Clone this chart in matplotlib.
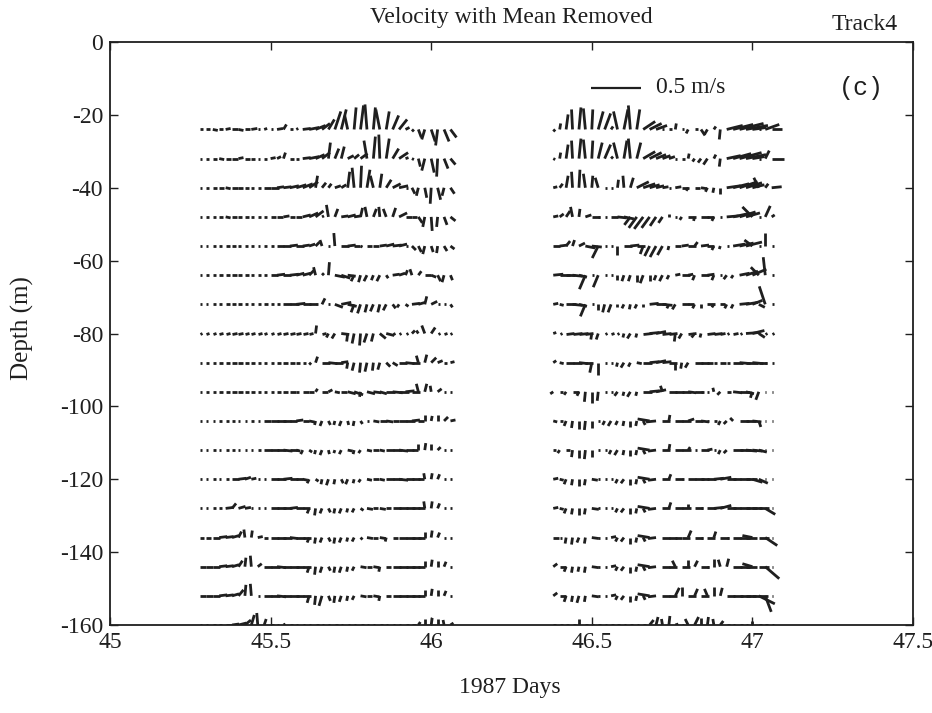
import numpy as np
import matplotlib
matplotlib.use("Agg")
import matplotlib.pyplot as plt
from matplotlib.collections import LineCollection

plt.rcParams["font.family"] = ["Liberation Serif", "DejaVu Serif"]
plt.rcParams["axes.unicode_minus"] = False

# ---------------- data ----------------
DEPTHS = [-24, -32, -40, -48, -56, -64, -72, -80, -88, -96,
          -104, -112, -120, -128, -136, -144, -152, -160]
LEFT_START = 45.28     # first ensemble time of the first segment (days)
RIGHT_START = 46.38    # first ensemble time of the second segment (days)
STEP = 0.02            # ensemble interval (days)

# velocity components, cm/s (east = U, north = V), one list per depth
U_LEFT = [
    [3,4,5,4,5,6,5,5,6, 2,3,2, 6,3, 3,2, 8,10,10,8,6, 6,5,-3,2,3,-2,2,-4,3,6,8, 4,2, 3,-3,4,-2,5,6],
    [2,3,4,5,5,6,5,5,4, 2,3,5, 4,2, 4,3, 8,10,9,8, 2, 4,3, 6,5,7, -3,2,-1,3, 6,9, 3,2, 2,-3,3,-1,4,5],
    [2,3,4,5,5,6,5,4,3,3, 7,8,7, 8,9,10,10,9, 2, 4,3, 6,5, 2,-2,1,3, -3,2,5, 8,9, 2, 3,-2,2,-1,3,-2,4],
    [2,3,3,4,5,5,4,4,3,3,3, 5,6,6,5,6, 8,9,8, 2, -2,3, 7,8,7, 2,-2,3,-1, -3,3,8, 6,5, 4,-2,1,-1,3,5],
    [2,2,3,3,4,4,3,3,3,2,3,3, 7,8,8,8,7,6, 4,-2, 2, -1, 8,8,6, 2,5, 6,7,8,9,8, 2, 4,3,-2,2,-1,3,4],
    [2,3,3,4,4,5,4,4,3,3,3, 7,8,8,9,8,8, 5,-2, 2,1, 10,9,8, -3,-2,-3,-2,-3,2, 7,6,2,-2,3, 6,5,3,-2,2],
    [2,2,3,3,4,4,4,3,3,3,4,3,3, 8,9,9,8,8, 2, 3, 2, 8,10,9, -3,-3,-2,-3,-2,-3, 3,-2,3, 8,7,2,6, 2,2, 2],
    [2,3,3,4,4,5,5,4,4,4,3,3,4,5,5,5, 5,4, 1, 4, -2,-3,8, -1,-2,-1,-3,-2, 6,8, 2,2,2, 3,-2, -3,4, 2,3,2],
    [2,3,3,4,4,5,5,4,4,3,3,3,4,5,5,4, 3,2, 2, 8,9,8,7, -1,-2,-1,-2,-1,-2,4,5, 8,9,8, -2,2,5, 5,3,4],
    [2,3,3,4,4,5,5,4,4,3,3,3,4,5, 6,3,6,5, 2, 6,4,5,6, 8,9,-1,8,8,7, 9,10,10,9,8, -2,2,-1, 4,2,2],
    [2,2,2,3,3,3,2,2,3,2, 7,8,9,8,7, 7,6,5, -1,-2,2,-1, -2,1,-1,2,2, 6,7,7,6, 8,9,8,6, 0,1,0, 4,5],
    [2,2,3,2,3,3,2,2,2,3, 8,8,9,9,8, 4,-2,3, -1,-2,1,-1,-2,5,-1,-2, 5,6,5, 8,9,9,8,6, 0,1,0, 3,2,2],
    [2,2,3,2,3, 7,8,6,5, 2,2, 8,9,9,8,7, 5,-2,3, -1,-2,-1,2,-2,-1,-2, 5,6,5, 8,9,9,8,8,6, -1,1,2, 2,2],
    [2,2,3,3, 8,4,7,6, 2,2,2, 8,9,9,8,8,7, -2,-1,-2,2,-1,-2,-1,-2,3, 6,5,6,5, 8,9,9,8,7, -1,1,2, 2,2],
    [4,5, 7,8,8,7,3,-1,1, 5,4, 8,9,9,8,9,8, -2,-1,-2,2,-1,-2,-1,-2,2, 6,5,6,-1,5, 8,9,9,7, 0,1,2, 2,2],
    [6,7,7,8, 8,7,4,1,-1, 4, 8,9,9,8,9,8,8, -2,-1,-2,2,-1,-2,-1,-2, 6,5,6,-1,5, 8,9,9,8,7, 0,1,0,2, 2],
    [6,7,7,8,8, 7,5,1,-1, 2, 8,9,9,8,9,8,8, -2,-1,-3,2,-1,-2,-1,-2, 6,5,6,-1,5, 8,9,9,8,7, 0,1,0,2, 2],
    [2,2,3,3, 6,7,8,6,3,-1,2, 3,2,2,3,2, 2,2,3,2,2,3,2,2,2,3,2,2,3,2,2,2,3, 4,2,0,1,0,-1,3],
]
V_LEFT = [
    [0,0,-1,0,1,0,-1,0,1, 0,1,0, 1,5, 0,1, 1,2,4,6,10, 18,20,14,22,24,25,22,20,18,14,10, 2,-2, -8,-10,-12,-16,-12,-8],
    [0,0,0,-1,0,0,1,0,0, 0,0,1, 2,6, 0,0, 1,2,4,6, 16, 10,12, 3,4,5, 18,22,24,20, 10,6, 1,-1, -8,-12,-14,-18,-10,-6],
    [0,0,0,0,-1,0,0,0,0,0, 0,0,1, 1,2,3,4,6, 12, 5,4, 2,3, 16,20,22,18, 12,14,8, 4,2, 0, -6,-8,-10,-16,-12,-8,-6],
    [0,0,0,0,-1,0,0,0,0,0,0, 0,0,1,0,0, 2,4,6, 1, 12,8, 1,2,1, 9,10,8,10, 8,9,4, 0,0, -6,-10,-14,-10,-8,-4],
    [0,0,0,0,0,0,0,0,0,0,0,0, 0,0,1,0,1,2, 4,6, 0, 13, 0,1,0, -1,0, 0,1,2,1,2, 0, -4,-6,-8,-6,-7,-5,-3],
    [0,0,0,0,0,0,0,0,0,0,0, 0,1,0,1,2,2, 5,8, 2,13, -2,-3,-1, -6,-7,-6,-5,-6,-3, 1,2,5,6,4, 0,-2,-6,-7,-5],
    [0,0,0,0,0,0,0,0,0,0,0,0,0, 0,0,1,0,0, 0, 6, 0, -3,2,-2, -8,-9,-8,-7,-8,-6, -4,-3,-2, 1,2,8,3, 0,0, -3],
    [0,0,0,0,0,0,0,0,0,0,0,0,0,0,0,0, 0,0, 8, 0, -4,-5,-1, -8,-10,-12,-9,-8, -5,-2, 0,0,0, 3,3, 8,6, 0,0,0],
    [0,0,0,0,0,0,0,0,0,0,0,0,0,0,0,0, 0,-2, 6, 0,-1,0,1, -6,-8,-10,-9,-8,-7,-4,-3, 0,-1,0, 7,8,5, 2,0,1],
    [0,0,0,0,0,0,0,0,0,0,0,0,0,0, 0,0,0,0, 3, 0,2,-1,0, -2,-3,-5,-2,-1,-2, 0,-1,0,1,0, 8,8,6, 3,0,0],
    [0,0,0,0,0,0,0,0,0,0, 0,0,0,0,0, 1,0,-1, -4,-5,-4,-4, -5,-4,-5,-3,0, -1,0,-1,0, 0,0,1,0, 6,5,6, 4,1],
    [0,0,0,0,0,0,0,0,0,0, 0,0,0,-1,0, -1,-4,-2, -4,-5,-4,-3,-4,-1,-4,-3, -1,0,-1, 0,0,-1,0,0, 6,7,6, 3,0,0],
    [0,0,0,0,0, 0,1,2,1, 0,0, 0,0,1,0,0, -1,-4,-2, -5,-6,-5,-4,-5,-4,-3, -1,0,-1, 0,0,-1,0,0,0, 6,6,5, 0,0],
    [0,0,0,0, 1,5,2,1, 0,0,0, 0,0,0,1,0,0, -5,-7,-5,-4,-5,-5,-4,-4,-2, -1,0,-1,0, 0,0,0,0,0, 7,7,5, 0,0],
    [0,0, 0,1,1,2,6,8,7, 1,0, 0,0,0,-1,0,0, -5,-6,-5,-4,-6,-5,-4,-4,-2, -1,0,-1,-4,0, 0,0,0,0, 6,7,5, 0,0],
    [0,0,0,1, 1,2,6,9,11, 3, 0,0,-1,0,0,0,0, -6,-8,-6,-4,-6,-6,-5,-4, -1,0,-1,-5,0, 0,0,0,0,0, 6,7,6,5, 0],
    [0,0,0,1,1, 2,6,11,12, 0, 0,0,-1,0,0,0,0, -7,-9,-10,-5,-7,-6,-5,-4, -1,0,-1,-5,0, 0,0,0,0,0, 6,7,6,5, 0],
    [0,0,0,0, 0,1,2,5,10,12,6, 0,0,1,0,0, 0,0,0,0,0,0,0,0,0,0,0,0,0,0,0,0,0, 0,3,6,7,6,5,2],
]
U_RIGHT = [
    [2, 1,2,-1,2,-2,1,5,6, 2, -4,4, -2,3, 12,12,11, 2, 3,1,2,-2,3, 4,-3,2, -1, 16,20,24,22,14, 2, 14,10],
    [2, 1,2,-1,2,-2,1,4,6, 2, -4,3, -2,4, 12,12,10,8,6, 2,3,1,-2, -3,-4,2,-1, 14,18,22,20,12, 2, 4,12],
    [4,3, 2,-1,1,-2, 1,-3, 2,2, 1, -1,3, 12,12,10,8,6, 2, 6,7,-2,5, 6,-2,-1,0, 14,16,18,16,12, -5, 3,10],
    [5,4, 4,-2,1, 6,8, 2,2, 7,9,10, -6,-8,-9,-8,-6,-4, 0,2,-2, 8,-1,8, 7,-2,2, 12,14,16,14, -10, 2,5,3],
    [7,8, 4,2,6, 10,10, -6, 2,2, 0, 8,9,8, -3,-5,-6,-5, -1,6,7, 8,3,8,7, -2,-1,2, 12,14,16, -8, 2,0,2],
    [10,10, 9,10,8, -6, 2,-5, 2,2, 0,-2, -2,0,-3,0,-2, -3,-2,5,8, 5,-2,8,7, -2,2,-3,-2, 10,12,14, -8, -2,2],
    [5,4, 10,10,8, -5, 2, 0,-2,-3, 0,-2,-1,-2,0, 9,10,10, -2,-3,7,6, -2,0,8,-2,5, -2,-2,10,12, 10,6, -6,2],
    [3,2, 8,9,9,8, -1,-2, 2,3,2, -1,-3,-1, 9,10,10,9, 8,-1,-3,8, -3,-1,8,8, 5,2,5,2, 14,12,6, 2,2],
    [3,4, 8,9,9,8, -2,0, 2,2, -1,-3,-2,5, 9,10,10,9,8, 0,-1,-3,8, 8,6,3,6,3, 10,11,12,11,8, 2,2],
    [-3, 3,-2,6,-2, -1,0,-1, 2,2, -3,-1,-3,-1, 9,10,10,-2,8, 9,9,8,8, 3,2,-1,-3,4, 9,10,8,-2,-3, 1,1],
    [4,3, -2,-1,0,-1,0, 2, -2,-3,-2, -1,0,-1,2, -12,-10,8,1, 8,9,6,8,8, 2,3,-2,-3, -3,9,10,9, 2, 1,1],
    [3,-2,4, -1,0,-1,0, 2, 2,-2,-3, -1,0,-1,2, -12,-8,8,1, 8,9,2,2,8, 5,2,-2,-3, 10,11,11,10,8, 1,1],
    [5,4, -2,-1,0,-1,6, 2,2, 2,-2,-3, 0,-1,2, -12,-8,8,2, 8,2,8,9,8, 9,10,11,9,8, 10,11,10,9, 1,1],
    [5,4, -2,-1,0,-1,7, 2,2, 2,-2,-3, 0,-1,2, -12,-8,8,2, 8,9,0,8,2, 9,10,11,9,8, 10,11,10,10, 10, 1],
    [6,2, -1,-1,-2,-1,7, 2,2, 5,-2,-3, 0,-1,2, -12,-8,8,8,7, 8,3,8,2,8, 2,9,2,8, 10,11,-10,10, 12, 1],
    [4,6, -2,-1,-1,-1,7, 2,2, 5,-2,-3, 0,-1,2, -12,-8,8,8,-3, 8,0,3,8,2, 0,-2,2,9, 10,11,-10,10, 14, 1],
    [4,6, -2,-1,-2,-1,7, 2,2, 5,-2,-3, 0,-1,2, -12,-8,8,8,4, 0,8,3,8, -3,0,2,8, 10,11,10,16, 16, 6, 1],
    [3,3,3, 3,0, 3,2,3,2,3,3,2,3,2,3, 4,2,-1,1, 3,2, -3,4,0,1,-1,3, 3,2,3,2, 0, 3,3,2],
]
V_RIGHT = [
    [-2, 6,15,20,22,21,20,18,16, 3, 18,20, 24,20, 8,6,4, 0, 0,6,0,-4,0, -6,-5,3, -10, 4,5,6,4,2, 0, 5,0],
    [-1, 6,14,18,20,19,18,16,14, 2, 16,18, 20,16, 7,6,4,3,2, 0,0,5,-3, -4,-6,4,-8, 3,5,6,4,2, 0, 8,0],
    [1,4, 12,16,18,14, 12,10, 0,0, 8, 12,10, 6,4,3,2,1, 0, 1,0,-3,0, -1,-4,-5,-6, 2,4,6,5,3, 10, 4,1],
    [1,3, 6,10,8, 2,0, 0,0, 0,-1,-2, -8,-11,-12,-11,-9,-6, 3,0,-3, 0,-4,0, 0,-4,0, 1,3,5,4, 10, 0,11,2],
    [0,1, 5,6,3, -2,-1, -12, 0,0, -9, 0,1,0, -8,-10,-11,-9, -4,0,1, 0,4,1,0, -4,-3,0, 2,3,4, 6, 0,13,0],
    [1,0, 0,-1,-2, -14, 0,-12, 0,0, -5,-6, -6,-7,-8,-6,-5, -6,-4,1,0, 1,-5,0,1, -5,0,-4,-3, 2,4,6, 8, 18,0],
    [1,-1, 0,-1,-2, -12, 0, -6,-8,-8, -3,-4,-5,-4,-3, 1,0,-1, -4,-5,0,0, -4,-4,0,-3,0, -4,-4,1,2, 4,-3, 18,0],
    [1,0, 0,0,0,0, -6,-6, 0,0,0, -4,-5,-4, 0,1,2,0, 0,-8,-5,0, -4,-4,0,0, 0,0,0,0, 1,3,-4, 0,0],
    [2,-1, 0,0,-1,0, -10,-12, 0,0, -4,-5,-4,-1, 0,1,2,1,0, -7,-6,-5,0, 0,0,0,0,0, 0,-1,0,-1,0, 0,0],
    [-2, 0,-3,0,-4, -10,-11,-9, 0,0, -4,-4,-5,-4, 0,1,2,6,0, 0,0,-1,0, 0,0,4,-3,0, -1,0,-2,-6,-8, 0,0],
    [-1,0, -5,-7,-8,-9,-7, 0, -4,-5,-4, -5,-6,-5,-4, 2,-1,0,6, 0,0,2,0,-1, 0,0,-4,-3, 3,0,0,-1, -6, 0,0],
    [0,-3,0, -7,-8,-9,-7, 0, 0,-4,-5, -5,-6,-5,-4, 2,-1,0,6, 0,0,3,0,0, 1,0,-4,-3, 0,0,-1,-1,-2, 0,0],
    [1,-1, -5,-6,-7,-6,-1, 0,0, 0,-4,-4, -6,-5,-4, 2,-1,0,5, 0,0,0,0,0, 0,1,2,0,0, 0,0,-3,-4, 0,0],
    [1,-1, -5,-6,-7,-6,-1, 0,0, 0,-4,-4, -6,-5,-4, 2,-1,0,6, 0,0,4,0,0, 0,1,3,0,0, 0,0,0,0, -6, 0],
    [0,0, -6,-7,-5,-6,-1, 0,0, 1,-4,-4, -6,-5,-4, 2,-1,0,0,0, 0,7,0,0,0, 6,0,0,0, 0,0,2,0, -8, 0],
    [3,0, -5,-6,-5,-6,-1, 0,0, 1,-4,-4, -6,-5,-4, 2,-1,0,0,6, 0,7,6,0,0, 8,7,8,0, 0,0,3,0, -12, 0],
    [3,0, -6,-6,-7,-6,-1, 0,0, 1,-4,-4, -6,-5,-4, 2,-1,0,0,8, 9,0,7,0, 7,9,8,0, 0,0,0,0, -8, -16, 0],
    [0,0,0, 0,6, 0,0,0,0,0,0,0,0,0,0, 5,8,6,9, 1,0, 6,8,7,8,6,4, 0,0,0,0, 4, 0,0,0],
]

X_TICKS = [45, 45.5, 46, 46.5, 47, 47.5]
X_TICKLABELS = ["45", "45.5", "46", "46.5", "47", "47.5"]
Y_TICKS = [0, -20, -40, -60, -80, -100, -120, -140, -160]
SCALE_SPEED = 50       # reference arrow, cm/s (0.5 m/s)

# ---------------- figure ----------------
W, H, DPI = 932, 713, 100
INK = "#1f1f1f"
fig = plt.figure(figsize=(W / DPI, H / DPI), dpi=DPI)
ax = fig.add_axes([110 / W, 1 - 625 / H, 803 / W, 583 / H])
ax.set_xlim(45, 47.5)
ax.set_ylim(-160, 0)

PX_PER_CMS = 1.0  # 1 cm/s drawn as 1 pixel (0.5 m/s -> 50 px)


def stick_segments(times, depth, u, v):
    base = np.column_stack([times, np.full(len(times), depth, dtype=float)])
    bd = ax.transData.transform(base)
    td = bd + PX_PER_CMS * np.column_stack([u, v]).astype(float)
    tip = ax.transData.inverted().transform(td)
    return np.stack([base, tip], axis=1)


segs = []
for start, UU, VV in ((LEFT_START, U_LEFT, V_LEFT), (RIGHT_START, U_RIGHT, V_RIGHT)):
    for z, u, v in zip(DEPTHS, UU, VV):
        t = start + STEP * np.arange(len(u))
        segs.append(stick_segments(t, z, u, v))
segs = np.concatenate(segs)
lc = LineCollection(segs, colors=INK, linewidths=2.0, capstyle="butt")
ax.add_collection(lc)

# reference arrow
ref = stick_segments([46.497], -12.5, [SCALE_SPEED], [0])
ax.add_collection(LineCollection(ref, colors=INK, linewidths=1.6))
ax.text(46.70, -12.5, "0.5 m/s", fontsize=17, va="center", ha="left", color=INK)
ax.text(47.34, -12.5, "(c)", fontsize=18, va="center", ha="center",
        family=["Liberation Mono", "DejaVu Sans Mono"], color=INK)

ax.set_xticks(X_TICKS)
ax.set_xticklabels(X_TICKLABELS)
ax.set_yticks(Y_TICKS)
ax.set_yticklabels([str(y) for y in Y_TICKS])
ax.tick_params(direction="in", top=True, right=True, length=6, width=1.0,
               labelsize=17, pad=5, colors=INK)
for s in ax.spines.values():
    s.set_linewidth(1.3)
    s.set_color(INK)

fig.text(511 / W, 1 - 18 / H, "Velocity with Mean Removed", fontsize=17,
         ha="center", va="center", color=INK)
fig.text(865 / W, 1 - 24 / H, "Track4", fontsize=17, ha="center", va="center", color=INK)
fig.text(22 / W, 1 - 328 / H, "Depth (m)", fontsize=18, rotation=90,
         ha="center", va="center", color=INK)
fig.text(510 / W, 1 - 688 / H, "1987 Days", fontsize=17, ha="center", va="center", color=INK)

fig.savefig("out.png", dpi=DPI)
